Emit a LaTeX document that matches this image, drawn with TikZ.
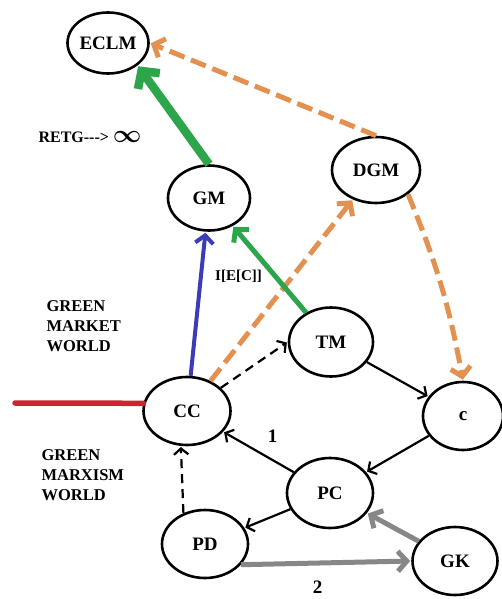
\documentclass[tikz,border=0pt]{standalone}
\usepackage{fontspec}
\setmainfont{Liberation Serif}
\usetikzlibrary{shapes.geometric,arrows.meta}

\definecolor{redline}{RGB}{208,35,50}
\definecolor{bluearrow}{RGB}{60,60,185}
\definecolor{greenarrow}{RGB}{45,165,75}
\definecolor{orangearrow}{RGB}{226,145,80}
\definecolor{grayarrow}{RGB}{135,135,135}

\begin{document}
\begin{tikzpicture}[x=1pt,y=1pt,>={Straight Barb[length=4pt 1,width=10pt 2]},
  world node/.style={ellipse,draw,line width=2.6pt,minimum width=86pt,minimum height=68pt,inner sep=0pt,font=\fontsize{19}{22}\selectfont\bfseries},
  side text/.style={align=left,anchor=west,font=\fontsize{16.5}{20}\selectfont\bfseries},
  trans/.style={->,line width=2.2pt,shorten >=1pt},
  blue arrow/.style={draw=bluearrow,line width=4pt},
  green arrow/.style={draw=greenarrow,line width=5pt},
  orange arrow/.style={draw=orangearrow,line width=5pt,dash pattern=on 16pt off 7pt},
  gray arrow/.style={draw=grayarrow,line width=5pt},
  black dash/.style={dash pattern=on 9pt off 6pt}]

  \useasboundingbox (0,0) rectangle (502,-599);

  \node[world node,minimum width=81pt,minimum height=61pt] (ECLM) at (108,-43) {ECLM};
  \node[world node,minimum width=82pt,minimum height=65pt] (GM) at (209,-198) {GM};
  \node[world node,minimum width=88pt,minimum height=66pt] (DGM) at (376,-170) {DGM};
  \node[world node,minimum width=84pt,minimum height=69pt] (TM) at (331,-342) {TM};
  \node[world node,minimum width=80pt] (c) at (463,-416) {c};
  \node[world node,minimum width=87pt] (CC) at (187,-411) {CC};
  \node[world node,minimum height=70pt] (PC) at (330,-493) {PC};
  \node[world node] (PD) at (205,-544) {PD};
  \node[world node,minimum width=85pt] (GK) at (455,-561) {GK};

  \node[side text] (market) at (43,-326) {GREEN\\MARKET\\WORLD};
  \node[side text] (marxism) at (38,-475) {GREEN\\MARXISM\\WORLD};
  \node[side text,font=\fontsize{16}{18}\selectfont\bfseries] (retg) at (35,-137)
    {RETG-{}-{}-> {\fontsize{32}{32}\selectfont\boldmath$\infty$}};

  \coordinate (redend) at (15,-403);
  \draw[redline,line width=5.5pt,line cap=round] (redend) -- (CC.170);

  \path[trans]
    (CC) edge[blue arrow] node[right=9pt,pos=0.69,font=\fontsize{15}{18}\selectfont\bfseries] {I[E[C]]} (GM)
    (CC) edge[orange arrow] (DGM)
    (CC) edge[black dash] (TM.west)
    (GM.north) edge[green arrow,line width=8.5pt] (ECLM.south east)
    (TM) edge[green arrow] (GM)
    (DGM.north) edge[orange arrow] (ECLM.east)
    (DGM.south east) edge[orange arrow,bend left=6] (c.north)
    (TM) edge (c)
    (c) edge (PC)
    (PC) edge node[above right=5pt,font=\fontsize{19}{22}\selectfont\bfseries] {1} (CC)
    (PC) edge (PD)
    (PD.125) edge[black dash] (CC.260)
    (PD.-30) edge[gray arrow] node[below=12pt,pos=0.45,font=\fontsize{19}{22}\selectfont\bfseries] {2} (GK.west)
    (GK) edge[gray arrow] (PC);
\end{tikzpicture}
\end{document}
